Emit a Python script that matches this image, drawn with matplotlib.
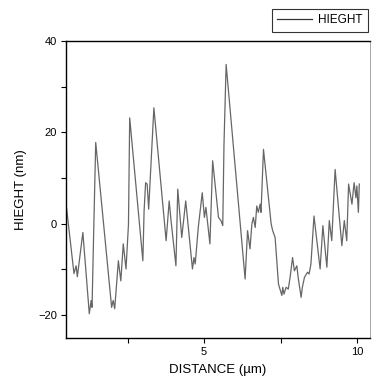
import matplotlib
matplotlib.use("Agg")
import matplotlib.pyplot as plt
from matplotlib.ticker import MultipleLocator

plt.rcParams['font.family'] = ['Liberation Sans', 'DejaVu Sans']

distance = [0.51, 0.75, 0.82, 0.86, 1.04, 1.25, 1.31, 1.34, 1.38, 1.46,
            1.98, 2.03, 2.08, 2.20, 2.28, 2.36, 2.45, 2.53, 2.57,
            3.00, 3.04, 3.09, 3.14, 3.19, 3.36, 3.76, 3.86, 3.92, 4.08,
            4.14, 4.27, 4.40, 4.62, 4.67, 4.71, 4.81, 4.94, 5.01, 5.06,
            5.19, 5.28, 5.47, 5.55, 5.61, 5.65, 5.72, 6.34, 6.42, 6.50,
            6.56, 6.61, 6.67, 6.72, 6.77, 6.83, 6.86, 6.94, 7.19, 7.24,
            7.32, 7.43, 7.54, 7.57, 7.61, 7.68, 7.75, 7.81, 7.89, 7.95,
            8.03, 8.08, 8.17, 8.21, 8.28, 8.38, 8.43, 8.49, 8.59, 8.79,
            8.88, 9.01, 9.09, 9.17, 9.28, 9.50, 9.58, 9.66, 9.72, 9.83,
            9.90, 9.96, 9.99, 10.04, 10.07]
height = [3.3, -10.9, -9.2, -11.6, -1.9, -19.7, -16.8, -18.3, -5.9, 17.8,
          -18.3, -16.8, -18.6, -8.1, -12.5, -4.4, -9.9, -0.1, 23.2,
          -8.1, 2.8, 9.0, 8.7, 3.2, 25.4, -3.7, 5.0, 0.7, -9.2,
          7.6, -3.0, 5.0, -9.9, -7.4, -8.8, -0.8, 6.8, 1.4, 3.6,
          -4.4, 13.8, 1.4, 0.7, -0.4, 17.4, 34.9, -12.1, -1.5, -5.5,
          -0.1, 1.4, -0.8, 3.9, 2.5, 4.3, 2.5, 16.3, 0.0, -1.5,
          -3.0, -13.2, -15.7, -13.9, -15.4, -13.9, -14.3, -11.7, -7.4, -10.3,
          -9.2, -12.1, -16.1, -13.9, -11.7, -10.6, -11.0, -8.8, 1.7, -9.9,
          -0.4, -9.5, 0.7, -3.7, 11.9, -4.8, 0.7, -3.7, 8.7, 4.3,
          9.0, 5.7, 8.3, 2.5, 8.7]

fig = plt.figure(figsize=(3.73, 3.88), dpi=100)
ax = fig.add_axes([0.177, 0.129, 0.815, 0.765])
line, = ax.plot(distance, height, color='#666666', lw=0.9, label='HIEGHT')

ax.set_xlim(0.49, 10.42)
ax.set_ylim(-25, 40)
ax.xaxis.set_major_locator(MultipleLocator(5))
ax.xaxis.set_minor_locator(MultipleLocator(2.5))
ax.yaxis.set_major_locator(MultipleLocator(20))
ax.yaxis.set_minor_locator(MultipleLocator(10))
ax.tick_params(which='both', direction='out', length=3.5, width=0.8,
               labelsize=8, top=False, right=False, pad=3)
for s in ['left', 'bottom', 'top']:
    ax.spines[s].set_linewidth(1.0)
ax.spines['right'].set_linewidth(0.6)
ax.spines['right'].set_color('#999999')

ax.set_xlabel('DISTANCE (µm)', fontsize=9.5, labelpad=5)
ax.set_ylabel('HIEGHT (nm)', fontsize=9.5, labelpad=8)

leg = fig.legend(handles=[line], loc='upper right',
                 bbox_to_anchor=(368/373, 1 - 9/388), fontsize=8.5,
                 frameon=True, fancybox=False, edgecolor='black',
                 borderpad=0.45, handlelength=3, handletextpad=0.5,
                 borderaxespad=0)
leg.get_frame().set_linewidth(0.8)
leg.get_lines()[0].set_color('#333333')

fig.savefig('out.png', dpi=100)
